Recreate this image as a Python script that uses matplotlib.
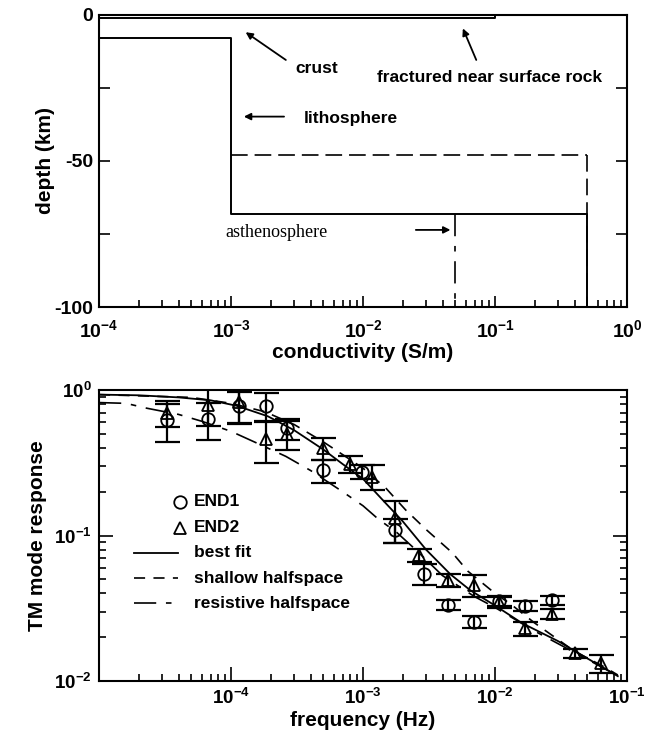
import matplotlib
matplotlib.use("Agg")
import matplotlib.pyplot as plt
from matplotlib.ticker import LogLocator, FixedLocator

plt.rcParams['font.family'] = ['Liberation Sans', 'DejaVu Sans']
plt.rcParams['font.weight'] = 'bold'
plt.rcParams['axes.labelweight'] = 'bold'
plt.rcParams['axes.unicode_minus'] = False
plt.rcParams['mathtext.fontset'] = 'custom'
plt.rcParams['mathtext.rm'] = 'Liberation Sans:bold'
plt.rcParams['mathtext.bf'] = 'Liberation Sans:bold'
plt.rcParams['mathtext.default'] = 'bf'
plt.rcParams['lines.scale_dashes'] = False

# --- conductivity models (top panel) ---
# best fit: layer conductivities and layer tops (km), bottom of model at -100
best_sigma = [0.1, 1e-4, 1e-3, 0.5]
best_tops = [0, -1.2, -8, -68]
shallow_sigma = [1e-3, 0.5]
shallow_tops = [-8, -48]
resist_sigma = [0.05]
resist_tops = [-68]
model_bottom = -100

# --- TM mode response data (bottom panel) ---
freq1 = [3.3e-5, 6.7e-5, 1.15e-4, 1.85e-4, 2.64e-4, 5.0e-4, 9.8e-4, 1.74e-3,
         2.91e-3, 4.36e-3, 6.98e-3, 1.07e-2, 1.69e-2, 2.69e-2]
resp1 = [0.62, 0.63, 0.78, 0.78, 0.545, 0.28, 0.275, 0.109,
         0.0544, 0.0333, 0.0256, 0.0357, 0.0328, 0.036]
err1 = [0.18, 0.18, 0.19, 0.17, 0.09, 0.05, 0.03, 0.02,
        0.009, 0.0025, 0.0025, 0.003, 0.0025, 0.0025]

freq2 = [3.3e-5, 6.7e-5, 1.15e-4, 1.85e-4, 2.64e-4, 5.0e-4, 8.0e-4, 1.16e-3,
         1.74e-3, 2.67e-3, 4.36e-3, 6.98e-3, 1.07e-2, 1.69e-2, 2.69e-2, 4.0e-2, 6.38e-2]
resp2 = [0.70, 0.79, 0.83, 0.46, 0.50, 0.40, 0.31, 0.254,
         0.131, 0.0734, 0.0494, 0.0457, 0.035, 0.023, 0.029, 0.0155, 0.0132]
err2 = [0.14, 0.22, 0.25, 0.145, 0.11, 0.07, 0.04, 0.05,
        0.042, 0.008, 0.005, 0.008, 0.003, 0.0025, 0.0025, 0.001, 0.0018]

fit_f = [1e-5, 2e-5, 4e-5, 7e-5, 1.1e-4, 1.9e-4, 3e-4, 5e-4, 7e-4, 1e-3, 1.5e-3,
         2e-3, 3e-3, 4.6e-3, 6.5e-3, 1e-2, 1.6e-2, 3e-2, 5e-2, 8.5e-2]
fit_r = [0.93, 0.92, 0.89, 0.85, 0.78, 0.66, 0.53, 0.39, 0.31, 0.245, 0.165,
         0.125, 0.08, 0.054, 0.042, 0.033, 0.025, 0.0188, 0.0143, 0.0108]

shallow_f = [1e-5, 5e-5, 1e-4, 1.8e-4, 3e-4, 5e-4, 7e-4, 1e-3, 1.5e-3, 2.1e-3,
             3e-3, 4.75e-3, 6.2e-3, 1e-2, 1.3e-2, 2e-2, 4e-2, 6.5e-2, 8.5e-2]
shallow_r = [0.93, 0.89, 0.81, 0.71, 0.58, 0.44, 0.36, 0.29, 0.21, 0.15,
             0.11, 0.076, 0.057, 0.04, 0.034, 0.025, 0.016, 0.0127, 0.011]

resist_f = [1e-5, 1.6e-5, 2.3e-5, 4e-5, 6e-5, 1e-4, 1.5e-4, 2.6e-4, 4e-4, 7e-4,
            1e-3, 1.3e-3, 1.8e-3, 2.5e-3, 4e-3, 7e-3, 1e-2, 2e-2, 4e-2, 8e-2]
resist_r = [0.82, 0.81, 0.75, 0.68, 0.61, 0.52, 0.44, 0.35, 0.28, 0.20,
            0.16, 0.13, 0.105, 0.08, 0.053, 0.038, 0.032, 0.022, 0.0157, 0.0112]

dash_short = (0, (8, 6))
dash_long_short = (0, (16, 7, 4, 7))


def profile(sigmas, tops, bottom):
    xs, ys = [], []
    for i, s in enumerate(sigmas):
        lo = tops[i + 1] if i + 1 < len(tops) else bottom
        xs += [s, s]
        ys += [tops[i], lo]
    return xs, ys


fig = plt.figure(figsize=(6.48, 7.38), dpi=100)
ax1 = fig.add_axes([0.1528, 0.584, 0.815, 0.3957])
ax2 = fig.add_axes([0.1528, 0.0772, 0.815, 0.3943])

# ---------------- top panel ----------------
bx, by = profile(best_sigma, best_tops, model_bottom)
ax1.plot(bx, by, color='k', lw=1.4)
sx, sy = profile(shallow_sigma, shallow_tops, model_bottom)
ax1.plot(sx[2:], sy[2:], color='k', lw=1.2, linestyle=(0, (12, 5)))
ax1.plot([shallow_sigma[0], shallow_sigma[1]], [shallow_tops[1], shallow_tops[1]],
         color='k', lw=1.2, linestyle=(0, (12, 5)))
rx, ry = profile(resist_sigma, resist_tops, model_bottom)
ax1.plot(rx, ry, color='k', lw=1.2, linestyle=dash_long_short)

ax1.set_xscale('log')
ax1.set_xlim(1e-4, 1)
ax1.set_ylim(-100, 0)
ax1.yaxis.set_major_locator(FixedLocator([0, -50, -100]))
ax1.yaxis.set_minor_locator(FixedLocator([-25, -75]))
ax1.xaxis.set_major_locator(LogLocator(base=10, numticks=10))
ax1.xaxis.set_minor_locator(LogLocator(base=10, subs=range(2, 10), numticks=20))
ax1.tick_params(axis='both', which='both', direction='in', labelsize=14,
                top=False, right=True, width=1.2)
ax1.tick_params(which='major', length=8)
ax1.tick_params(which='minor', length=5)
ax1.tick_params(axis='y', which='minor', length=8)
ax1.tick_params(axis='x', which='major', pad=9)
ax1.tick_params(axis='y', which='major', pad=4)
ax1.set_xlabel('conductivity (S/m)', fontsize=15, labelpad=1)
ax1.set_ylabel('depth (km)', fontsize=15, labelpad=0)

ann = dict(arrowstyle='-|>', color='k', lw=1.3, mutation_scale=10,
           shrinkA=0, shrinkB=0)
ax1.annotate('', xy=(1.29e-3, -5.9), xytext=(2.6e-3, -15.4), arrowprops=ann)
ax1.text(3.08e-3, -18.3, 'crust', fontsize=12.5, va='center', ha='left')
ax1.annotate('', xy=(0.057, -4.6), xytext=(0.072, -15.4), arrowprops=ann)
ax1.text(0.01265, -21.4, 'fractured near surface rock', fontsize=12.5,
         va='center', ha='left')
ax1.annotate('', xy=(1.25e-3, -34.8), xytext=(2.52e-3, -34.8), arrowprops=ann)
ax1.text(3.54e-3, -35.3, 'lithosphere', fontsize=12.5, va='center', ha='left')
ax1.annotate('', xy=(0.0459, -73.6), xytext=(0.0251, -73.6), arrowprops=ann)
ax1.text(9.1e-4, -74.5, 'asthenosphere', fontsize=13, va='center', ha='left',
         family=['Liberation Serif'], weight='normal')

# ---------------- bottom panel ----------------
ax2.plot(fit_f, fit_r, color='k', lw=1.3)
ax2.plot(shallow_f, shallow_r, color='k', lw=1.2, linestyle=dash_short)
ax2.plot(resist_f, resist_r, color='k', lw=1.2, linestyle=dash_long_short)

eb = dict(fmt='none', ecolor='k', elinewidth=1.6, capsize=9, capthick=1.6)
ax2.errorbar(freq1, resp1, yerr=err1, **eb)
ax2.errorbar(freq2, resp2, yerr=err2, **eb)
ax2.plot(freq1, resp1, 'o', mfc='none', mec='k', mew=1.3, ms=9, ls='none')
ax2.plot(freq2, resp2, '^', mfc='none', mec='k', mew=1.3, ms=9, ls='none')

ax2.set_xscale('log')
ax2.set_yscale('log')
ax2.set_xlim(1e-5, 1e-1)
ax2.set_ylim(1e-2, 1)
ax2.xaxis.set_major_locator(FixedLocator([1e-4, 1e-3, 1e-2, 1e-1]))
ax2.xaxis.set_minor_locator(LogLocator(base=10, subs=range(2, 10), numticks=20))
ax2.yaxis.set_minor_locator(LogLocator(base=10, subs=range(2, 10), numticks=20))
ax2.tick_params(axis='both', which='both', direction='in', labelsize=13.5,
                top=False, right=True, width=1.2)
ax2.tick_params(which='major', length=10)
ax2.tick_params(which='minor', length=5)
ax2.tick_params(axis='x', which='major', pad=5)
ax2.tick_params(axis='y', which='major', pad=5)
ax2.set_xlabel('frequency (Hz)', fontsize=15, labelpad=2)
ax2.set_ylabel('TM mode response', fontsize=15, labelpad=5)

# legend drawn in axes coordinates
lx0, lx1, mx, tx = 0.066, 0.150, 0.154, 0.179
rows = [0.616, 0.526, 0.44, 0.354, 0.268]
tr = ax2.transAxes
ax2.plot([mx], [rows[0]], 'o', mfc='none', mec='k', mew=1.3, ms=9, transform=tr)
ax2.plot([mx], [rows[1]], '^', mfc='none', mec='k', mew=1.3, ms=9, transform=tr)
ax2.plot([lx0, lx1], [rows[2]] * 2, color='k', lw=1.3, transform=tr)
ax2.plot([lx0, lx1], [rows[3]] * 2, color='k', lw=1.2, ls=dash_short, transform=tr)
ax2.plot([lx0, lx1], [rows[4]] * 2, color='k', lw=1.2, ls=dash_long_short, transform=tr)
labels = ['END1', 'END2', 'best fit', 'shallow halfspace', 'resistive halfspace']
for y, t in zip(rows, labels):
    ax2.text(tx, y, t, transform=tr, fontsize=12.5, va='center', ha='left')

for ax in (ax1, ax2):
    for sp in ax.spines.values():
        sp.set_linewidth(1.5)

fig.savefig('out.png', dpi=100)
